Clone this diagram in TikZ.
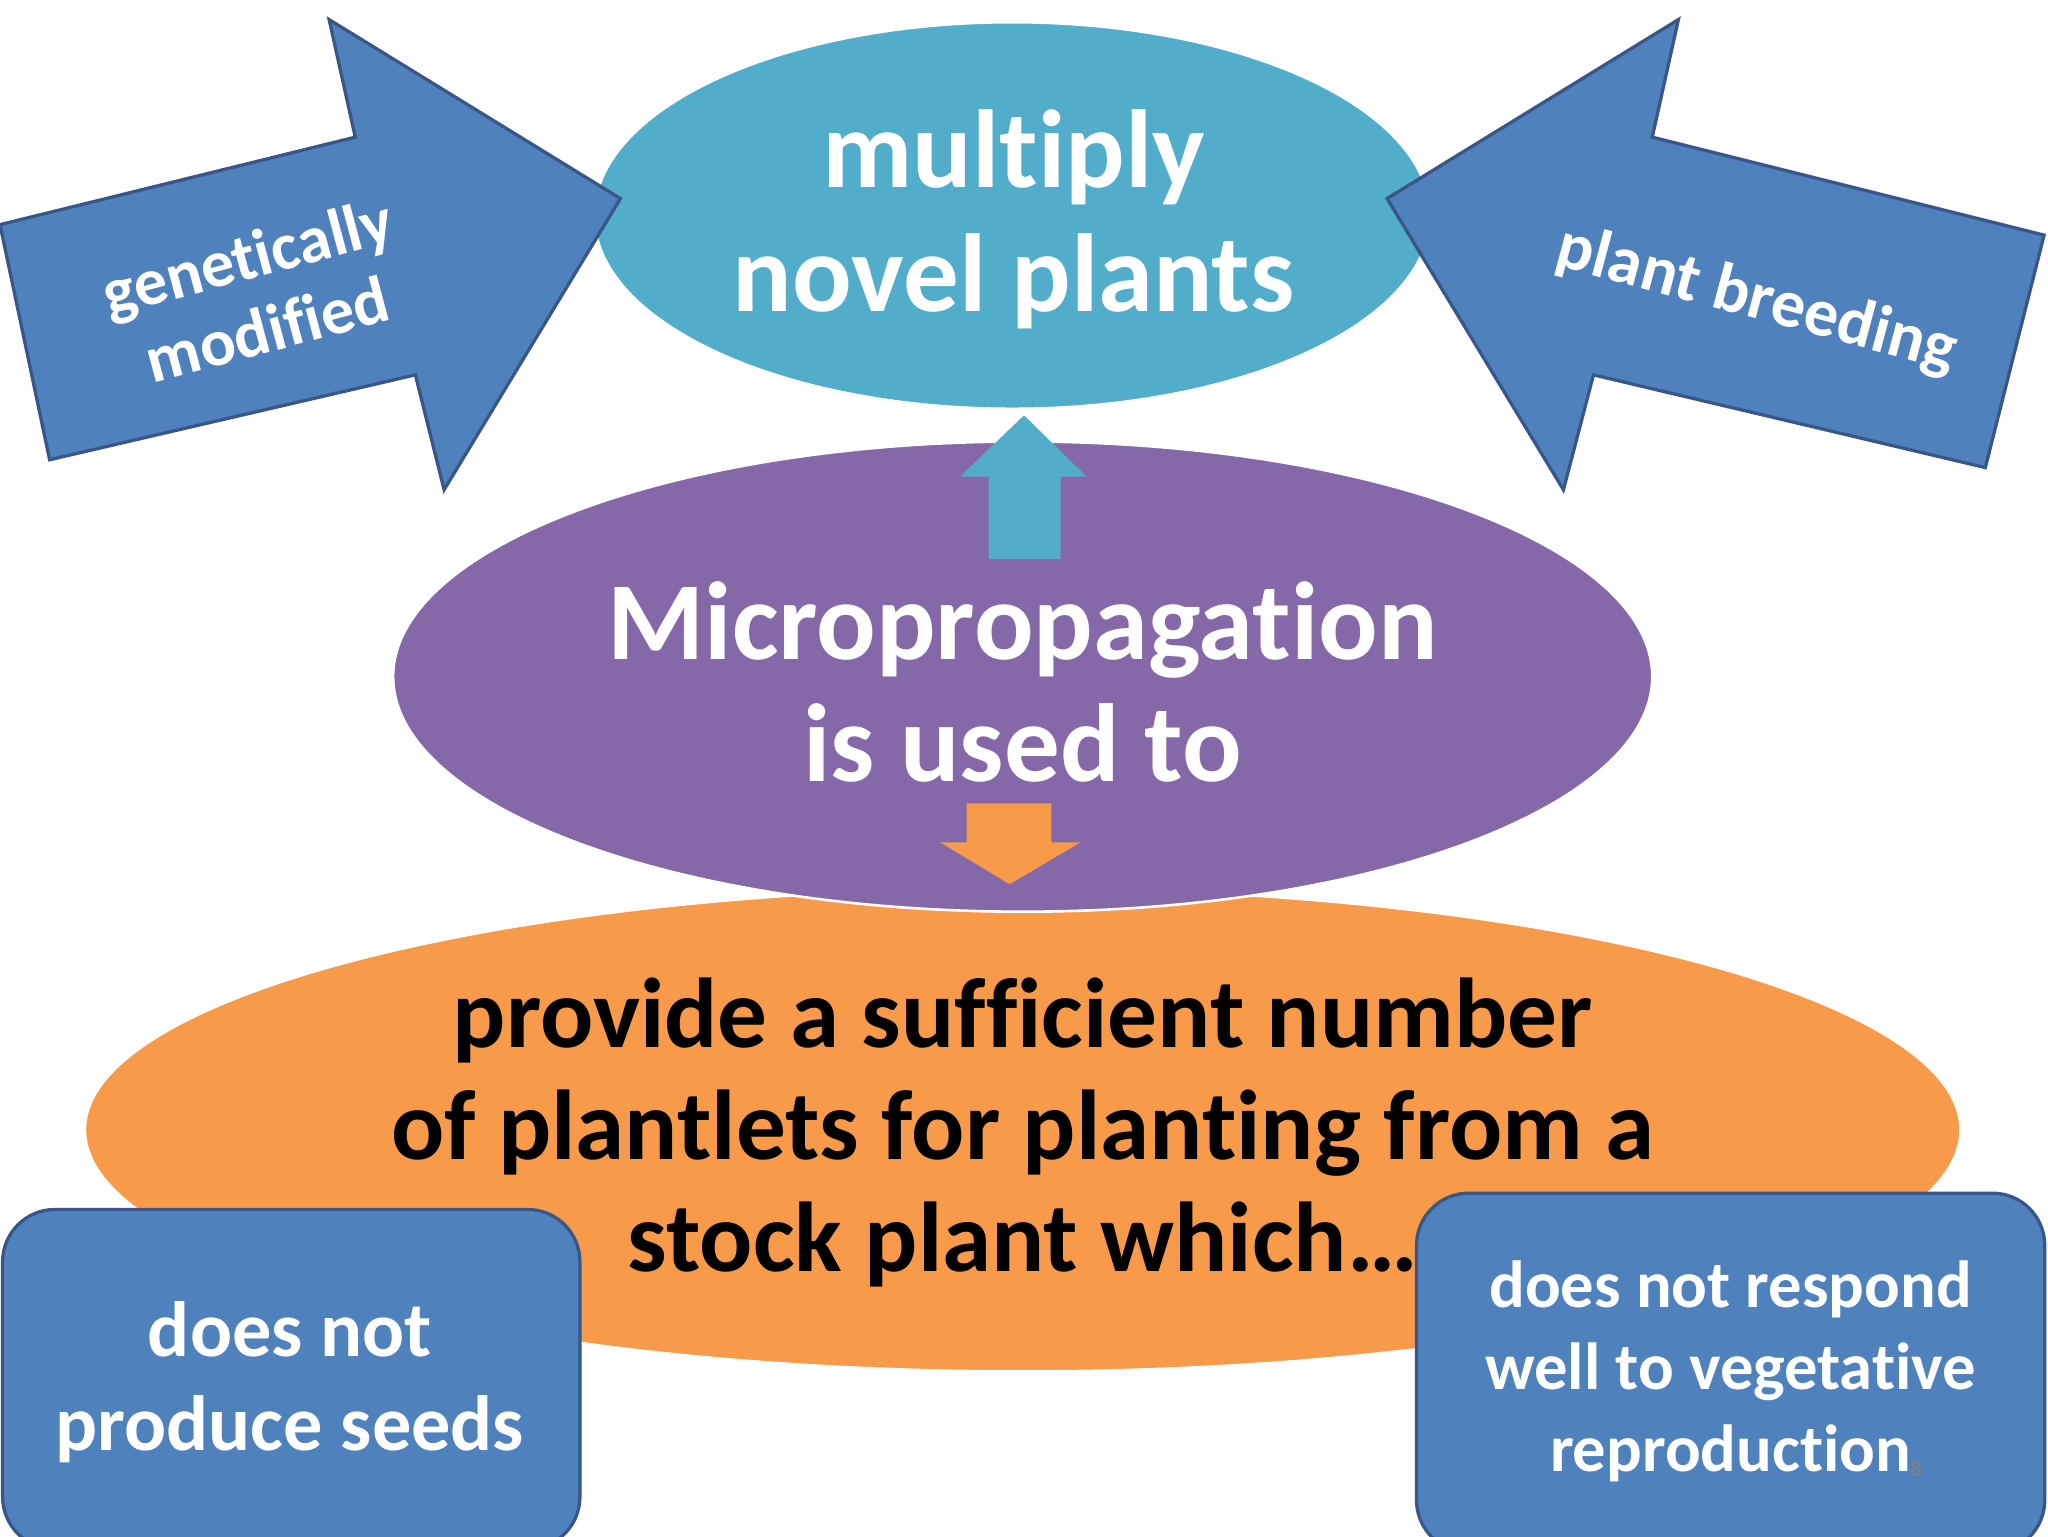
\documentclass[tikz,border=0pt]{standalone}
\usepackage{fontspec}
\setmainfont{Carlito}[Ligatures=NoCommon]
\usetikzlibrary{shapes.geometric}
\definecolor{teal1}{RGB}{82,173,203}
\definecolor{purp}{RGB}{133,104,168}
\definecolor{orng}{RGB}{247,155,75}
\definecolor{blu}{RGB}{79,129,189}
\definecolor{bluedge}{RGB}{56,86,135}
\begin{document}
\begin{tikzpicture}[x=1pt,y=-1pt,
  ell/.style={ellipse,draw=white,line width=2pt,inner sep=0pt},
  bigarrow/.style={fill=blu,draw=bluedge,line width=2.5pt,line join=miter},
  rbox/.style={rectangle,rounded corners=40pt,fill=blu,draw=bluedge,line width=2.5pt,inner sep=0pt},
  wt/.style={text=white,font=\bfseries,align=center}]
\useasboundingbox (0,0) rectangle (1568,1176);
\fill[white] (0,0) rectangle (1568,1176);
\node[ell,fill=orng,minimum width=1436pt,minimum height=370pt] (org) at (783,865) {};
\node[ell,fill=purp,minimum width=964pt,minimum height=360pt] (pur) at (783,518) {};
\node[ell,fill=teal1,minimum width=640pt,minimum height=296pt] (top) at (775,165) {};
\fill[teal1] (757,428) -- (812,428) -- (812,365) -- (832,365) -- (784,318) -- (735,365) -- (757,365) -- cycle;
\fill[orng] (740,615) -- (805,615) -- (805,645) -- (827,645) -- (773,677) -- (720,645) -- (740,645) -- cycle;
\draw[bigarrow] (0,172) -- (272,105) -- (252,15) -- (475,152) -- (340,375) -- (318,287) -- (38,352) -- cycle;
\draw[bigarrow] (1565,180) -- (1265,105) -- (1285,15) -- (1062,152) -- (1197,375) -- (1220,287) -- (1520,358) -- cycle;
\node[wt,font=\bfseries\fontsize{85}{95}\selectfont] (ttop) at (776,168) {multiply\\novel plants};
\node[wt,font=\bfseries\fontsize{85}{93}\selectfont] (tpur) at (783,522) {Micropropagation\\is used to};
\node[align=center,font=\bfseries\fontsize{76}{86}\selectfont] (torg) at (783,867) {provide a sufficient number\\of plantlets for planting from a\\stock plant which…};
\node[wt,rotate=15,font=\bfseries\fontsize{51}{58}\selectfont] (tgm) at (197,224) {genetically\\modified};
\node[wt,rotate=-15,font=\bfseries\fontsize{52}{58}\selectfont] (tpb) at (1345,230) {plant breeding};
\node[rbox,minimum width=442pt,minimum height=260pt] (lb) at (223,1056) {};
\node[rbox,minimum width=481pt,minimum height=275pt] (rb) at (1325,1051) {};
\node[wt,font=\bfseries\fontsize{60}{72}\selectfont] (tlb) at (222,1058) {does not\\produce seeds};
\node[wt,font=\bfseries\fontsize{51}{63}\selectfont] (trb) at (1325,1050) {does not respond\\well to vegetative\\reproduction};
\node[text=gray,font=\fontsize{18}{18}\selectfont] (num) at (1467,1124) {8};
\end{tikzpicture}
\end{document}
